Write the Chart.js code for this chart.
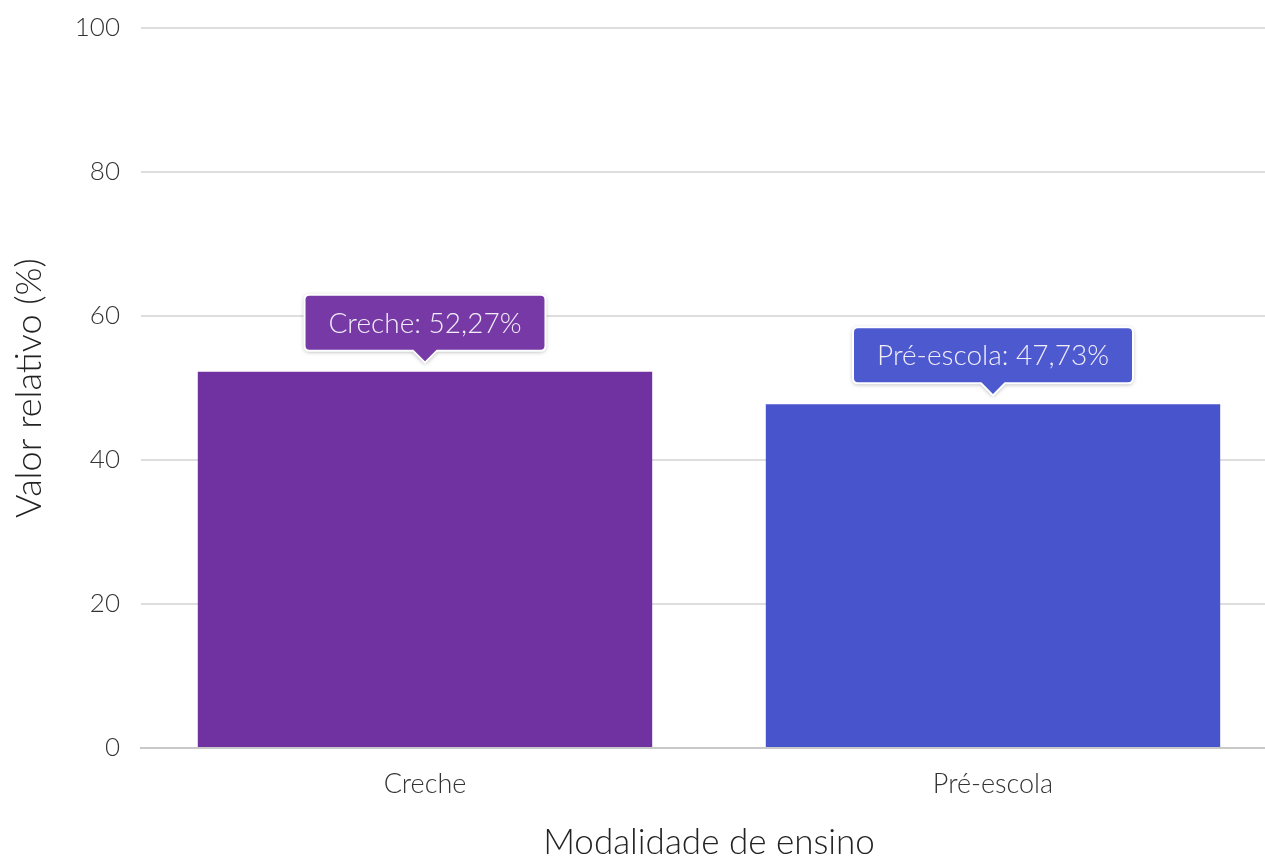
<!DOCTYPE html>
<html>
<head>
<meta charset="utf-8">
<script src="https://cdn.jsdelivr.net/npm/chart.js@4"></script>
<style>
  body { margin: 0; background: #fff; }
  #wrap { width: 1265px; height: 857px; overflow: hidden; }
  #inner { width: 1277px; height: 857px; position: relative; }
</style>
</head>
<body>
<div id="wrap"><div id="inner"><canvas id="chart"></canvas></div></div>
<script>
const categories = ["Creche", "Pré-escola"];
const values = [52.27, 47.73];
const barColors = ["#6f32a0", "#4754cc"];
const labelColors = ["#7639a6", "#4d59cf"];
const yTicks = [0, 20, 40, 60, 80, 100];

const fontFamily = "Lato, 'Open Sans', sans-serif";

// draws the callout boxes above each bar
const calloutPlugin = {
  id: "callouts",
  afterDatasetsDraw(chart) {
    const ctx = chart.ctx;
    const meta = chart.getDatasetMeta(0);
    meta.data.forEach((bar, i) => {
      const text = categories[i] + ": " + values[i].toFixed(2).replace(".", ",") + "%";
      ctx.save();
      ctx.font = "300 28px " + fontFamily;
      const w = ctx.measureText(text).width + 48;
      const h = 56;
      const tipY = bar.y - 9;
      const arrow = 12;
      const boxBottom = tipY - arrow;
      const boxTop = boxBottom - h;
      const left = bar.x - w / 2;
      const r = 5;
      ctx.beginPath();
      ctx.moveTo(left + r, boxTop);
      ctx.lineTo(left + w - r, boxTop);
      ctx.quadraticCurveTo(left + w, boxTop, left + w, boxTop + r);
      ctx.lineTo(left + w, boxBottom - r);
      ctx.quadraticCurveTo(left + w, boxBottom, left + w - r, boxBottom);
      ctx.lineTo(bar.x + arrow, boxBottom);
      ctx.lineTo(bar.x, tipY);
      ctx.lineTo(bar.x - arrow, boxBottom);
      ctx.lineTo(left + r, boxBottom);
      ctx.quadraticCurveTo(left, boxBottom, left, boxBottom - r);
      ctx.lineTo(left, boxTop + r);
      ctx.quadraticCurveTo(left, boxTop, left + r, boxTop);
      ctx.closePath();
      ctx.shadowColor = "rgba(0,0,0,0.35)";
      ctx.shadowBlur = 4;
      ctx.shadowOffsetY = 1;
      ctx.fillStyle = labelColors[i];
      ctx.fill();
      ctx.shadowColor = "transparent";
      ctx.lineWidth = 2;
      ctx.strokeStyle = "#ffffff";
      ctx.stroke();
      ctx.fillStyle = "#f2eef8";
      ctx.textAlign = "center";
      ctx.textBaseline = "middle";
      ctx.fillText(text, bar.x, boxTop + h / 2 + 1);
      ctx.restore();
    });
  }
};

new Chart(document.getElementById("chart").getContext("2d"), {
  type: "bar",
  data: {
    labels: categories,
    datasets: [{
      data: values,
      backgroundColor: barColors,
      barPercentage: 0.8,
      categoryPercentage: 1
    }]
  },
  options: {
    responsive: true,
    maintainAspectRatio: false,
    animation: false,
    layout: { padding: { top: 28, right: 0, left: 0, bottom: 0 } },
    plugins: {
      legend: { display: false },
      tooltip: { enabled: false }
    },
    scales: {
      x: {
        grid: { display: false, drawTicks: false },
        border: { color: "#c8c8c8", width: 2 },
        ticks: {
          color: "#333",
          font: { family: fontFamily, size: 27, weight: "300" },
          padding: 20
        },
        title: {
          display: true,
          text: "Modalidade de ensino",
          color: "#222",
          font: { family: fontFamily, size: 35, weight: "300" },
          padding: { top: 28, bottom: -7 }
        },
        afterFit(scale) {
          scale.height = 109;
          scale.paddingLeft = 0;
          scale.paddingRight = 0;
        }
      },
      y: {
        min: 0,
        max: 100,
        afterBuildTicks(scale) { scale.ticks = yTicks.map(v => ({ value: v })); },
        grid: { color: "#dedede", lineWidth: 2, drawTicks: false },
        border: { display: false },
        ticks: {
          color: "#333",
          font: { family: fontFamily, size: 26, weight: "300" },
          padding: 21
        },
        title: {
          display: true,
          text: "Valor relativo (%)",
          color: "#222",
          font: { family: fontFamily, size: 36, weight: "300" },
          padding: { top: 8, bottom: 0 }
        },
        afterFit(scale) {
          scale.width = 141;
          scale.paddingTop = 0;
          scale.paddingBottom = 0;
        }
      }
    }
  },
  plugins: [calloutPlugin]
});
</script>
</body>
</html>
